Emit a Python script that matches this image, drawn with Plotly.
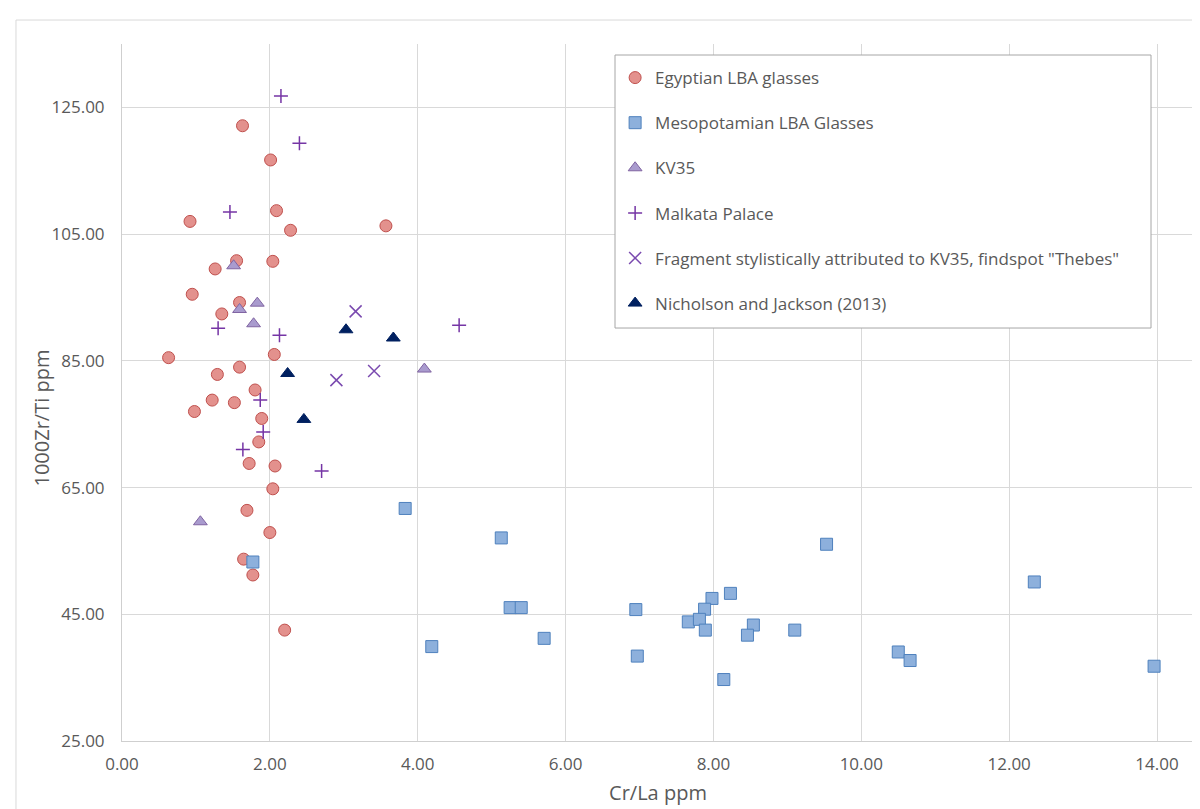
import plotly.graph_objects as go

# ---- Data ----
egypt_x = [1.63, 2.01, 0.92, 2.09, 2.28, 3.57, 1.55, 1.26, 2.04, 0.95, 1.59, 1.35, 2.06, 0.63, 1.59,
           1.29, 1.80, 1.22, 1.52, 0.98, 1.89, 1.85, 1.72, 2.07, 2.04, 1.69, 2.00, 1.645, 1.77, 2.20]
egypt_y = [122.1, 116.7, 107.0, 108.7, 105.6, 106.3, 100.8, 99.5, 100.7, 95.5, 94.2, 92.4, 86.0, 85.5, 84.0,
           82.85, 80.4, 78.8, 78.4, 77.0, 75.9, 72.2, 68.8, 68.4, 64.8, 61.4, 57.9, 53.7, 51.2, 42.5]

meso_x = [3.83, 5.13, 9.53, 12.34, 8.23, 7.98, 7.88, 5.25, 5.40, 6.95, 7.66, 7.81, 7.89, 8.54,
          8.46, 9.10, 5.71, 4.19, 6.97, 10.50, 10.66, 13.96, 8.14, 1.77]
meso_y = [61.7, 57.05, 56.05, 50.1, 48.3, 47.5, 45.8, 46.05, 46.05, 45.74, 43.8, 44.2, 42.5, 43.3,
          41.7, 42.5, 41.2, 39.9, 38.4, 39.05, 37.7, 36.8, 34.7, 53.25]

kv35_x = [1.51, 1.83, 1.59, 1.78, 4.09, 1.06]
kv35_y = [100.0, 94.1, 93.1, 90.85, 83.7, 59.6]

malkata_x = [2.15, 2.40, 1.46, 1.30, 2.13, 4.56, 1.87, 1.91, 1.635, 2.70]
malkata_y = [126.8, 119.35, 108.5, 90.15, 89.05, 90.6, 78.8, 73.75, 71.0, 67.6]

frag_x = [3.16, 2.90, 3.41]
frag_y = [92.8, 81.95, 83.4]

nich_x = [2.24, 3.03, 3.67, 2.46]
nich_y = [83.0, 89.9, 88.6, 75.75]

x_ticks = [0, 2, 4, 6, 8, 10, 12, 14]
y_ticks = [25, 45, 65, 85, 105, 125]

series_names = ["Egyptian LBA glasses", "Mesopotamian LBA Glasses", "KV35", "Malkata Palace",
                "Fragment stylistically attributed to KV35, findspot \"Thebes\"", "Nicholson and Jackson (2013)"]
x_title = "Cr/La ppm"
y_title = "1000Zr/Ti ppm"

FONT = "Open Sans, Liberation Sans, sans-serif"
TXT = "#595959"
GRID = "#D9D9D9"

fig = go.Figure()
fig.add_trace(go.Scatter(x=egypt_x, y=egypt_y, mode="markers", name=series_names[0], legendgroup="g1",
                         marker=dict(symbol="circle", size=12, color="#E3918D",
                                     line=dict(color="#C0504D", width=1))))
fig.add_trace(go.Scatter(x=meso_x, y=meso_y, mode="markers", name=series_names[1], legendgroup="g2",
                         marker=dict(symbol="square", size=12, color="#8DB0DC",
                                     line=dict(color="#4F81BD", width=1))))
fig.add_trace(go.Scatter(x=kv35_x, y=kv35_y, mode="markers", name=series_names[2], legendgroup="g3",
                         marker=dict(symbol="triangle-up", size=12, color="#A99BCE",
                                     line=dict(color="#8064A2", width=1))))
fig.add_trace(go.Scatter(x=malkata_x, y=malkata_y, mode="markers", name=series_names[3], legendgroup="g4",
                         marker=dict(symbol="cross-thin", size=10, color="#7535A5",
                                     line=dict(color="#7535A5", width=1.5))))
fig.add_trace(go.Scatter(x=frag_x, y=frag_y, mode="markers", name=series_names[4], legendgroup="g5",
                         marker=dict(symbol="x-thin", size=12, color="#7A4AAF",
                                     line=dict(color="#7A4AAF", width=1.5))))
fig.add_trace(go.Scatter(x=nich_x, y=nich_y, mode="markers", name=series_names[5], legendgroup="g6",
                         marker=dict(symbol="triangle-up", size=12, color="#002060",
                                     line=dict(color="#002060", width=1))))

fig.update_layout(
    width=1200, height=809,
    margin=dict(l=114, r=14, t=36, b=76, autoexpand=False),
    paper_bgcolor="white", plot_bgcolor="white",
    font=dict(family=FONT, size=17, color=TXT),
    showlegend=True,
    legend=dict(x=0.46, y=0.977, xanchor="left", yanchor="top",
                borderwidth=0, bgcolor="rgba(0,0,0,0)",
                font=dict(family=FONT, size=17, color=TXT),
                traceorder="grouped", tracegroupgap=20),
    xaxis=dict(range=[0, 14.5], tickvals=x_ticks, tickformat=".2f",
               showgrid=True, gridcolor=GRID, gridwidth=1, zeroline=False,
               showline=True, linecolor="#CFCFCF", linewidth=1,
               ticks="", ticklabelstandoff=8,
               title=dict(text=x_title, font=dict(family=FONT, size=20, color=TXT), standoff=11)),
    yaxis=dict(range=[25, 135], tickvals=y_ticks, tickformat=".2f",
               showgrid=True, gridcolor=GRID, gridwidth=1, zeroline=False,
               showline=True, linecolor="#CFCFCF", linewidth=1,
               ticks="", ticklabelstandoff=13),
    annotations=[dict(text=y_title, xref="paper", yref="paper", x=-0.0751, y=0.4634,
                      xanchor="center", yanchor="middle", textangle=-90, showarrow=False,
                      font=dict(family=FONT, size=20, color=TXT))],
    shapes=[
        dict(type="rect", xref="paper", yref="paper", x0=-0.0989, y0=-0.2, x1=1.06, y1=1.0344,
             line=dict(color="#D9D9D9", width=1), fillcolor="rgba(0,0,0,0)", layer="below"),
        dict(type="rect", xref="paper", yref="paper", x0=0.4599, y0=0.5925, x1=0.9599, y1=0.9842,
             line=dict(color="#A6A6A6", width=1), fillcolor="white", layer="above"),
    ],
)

fig.write_html("out.html")
